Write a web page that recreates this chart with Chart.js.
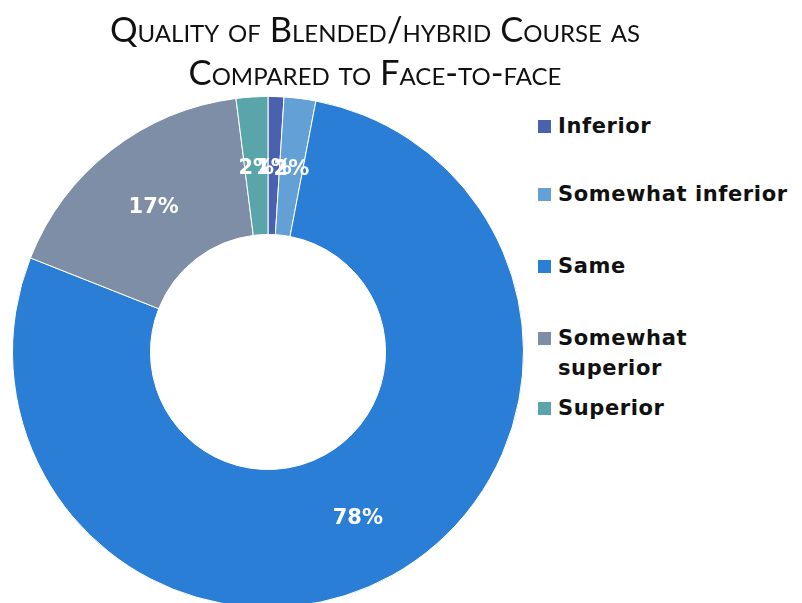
<!DOCTYPE html>
<html>
<head>
<meta charset="utf-8">
<script src="https://cdn.jsdelivr.net/npm/chart.js@4/dist/chart.umd.min.js"></script>
<style>
  html, body { margin: 0; padding: 0; background: #fff; overflow: hidden; }
  body { width: 802px; height: 603px; position: relative; }
  #title {
    position: absolute; left: 0; top: 7px; width: 750px;
    text-align: center; font-family: Lato, sans-serif; font-variant: small-caps;
    font-size: 34.5px; line-height: 43px; color: #111;
  }
  #chartBox { position: absolute; left: 0; top: 0; width: 536px; height: 704px; }
  #legend { position: absolute; left: 538px; top: 0; font-family: "DejaVu Sans", sans-serif; font-weight: bold; font-size: 21px; letter-spacing: 0.6px; color: #111; }
  .legend-item { position: absolute; left: 0; white-space: nowrap; line-height: 30px; }
  .legend-box { position: absolute; left: 0; top: 9px; width: 13px; height: 13px; }
  .legend-text { position: absolute; left: 20px; top: 0; }
</style>
</head>
<body>
<div id="chartBox"><canvas id="doughnutChart"></canvas></div>
<div id="title">Quality of Blended/hybrid Course as<br>Compared to Face-to-face</div>
<div id="legend"></div>

<script>
'use strict'

// Survey answers
const categories = ['Inferior', 'Somewhat inferior', 'Same', 'Somewhat superior', 'Superior'];
const percentages = [1, 2, 78, 17, 2];
const sliceColors = ['#4a62ad', '#62a0d6', '#2a7ed6', '#7f8ea7', '#5aa5aa'];

// Legend rows (y of each row, wrapped text for the long one)
const legendRows = [
  { top: 111, lines: ['Inferior'] },
  { top: 179, lines: ['Somewhat inferior'] },
  { top: 251, lines: ['Same'] },
  { top: 323, lines: ['Somewhat', 'superior'] },
  { top: 393, lines: ['Superior'] }
];

function buildLegend() {
  const legend = document.getElementById('legend');
  categories.forEach((name, i) => {
    const row = document.createElement('div');
    row.className = 'legend-item';
    row.style.top = legendRows[i].top + 'px';

    const box = document.createElement('div');
    box.className = 'legend-box';
    box.style.background = sliceColors[i];

    const text = document.createElement('div');
    text.className = 'legend-text';
    text.innerHTML = legendRows[i].lines.join('<br>');

    row.appendChild(box);
    row.appendChild(text);
    legend.appendChild(row);
  });
}

// Percent labels in the middle of each ring segment
const percentLabels = {
  id: 'percentLabels',
  afterDatasetsDraw(chart) {
    const ctx = chart.ctx;
    const meta = chart.getDatasetMeta(0);
    ctx.save();
    ctx.fillStyle = '#fff';
    ctx.font = 'bold 21px "DejaVu Sans", sans-serif';
    ctx.textAlign = 'center';
    ctx.textBaseline = 'middle';
    meta.data.forEach((arc, i) => {
      const pos = arc.tooltipPosition();
      ctx.fillText(percentages[i] + '%', pos.x, pos.y + 3);
    });
    ctx.restore();
  }
};

document.addEventListener('DOMContentLoaded', function () {
  buildLegend();

  const ctx = document.getElementById('doughnutChart').getContext('2d');
  new Chart(ctx, {
    type: 'doughnut',
    data: {
      labels: categories,
      datasets: [{
        data: percentages,
        backgroundColor: sliceColors,
        borderColor: '#fff',
        borderWidth: 1
      }]
    },
    options: {
      responsive: true,
      maintainAspectRatio: false,
      animation: false,
      cutout: '46%',
      layout: { padding: 12 },
      plugins: {
        legend: { display: false },
        tooltip: { enabled: false },
        title: { display: false }
      }
    },
    plugins: [percentLabels]
  });
});
</script>
</body>
</html>
